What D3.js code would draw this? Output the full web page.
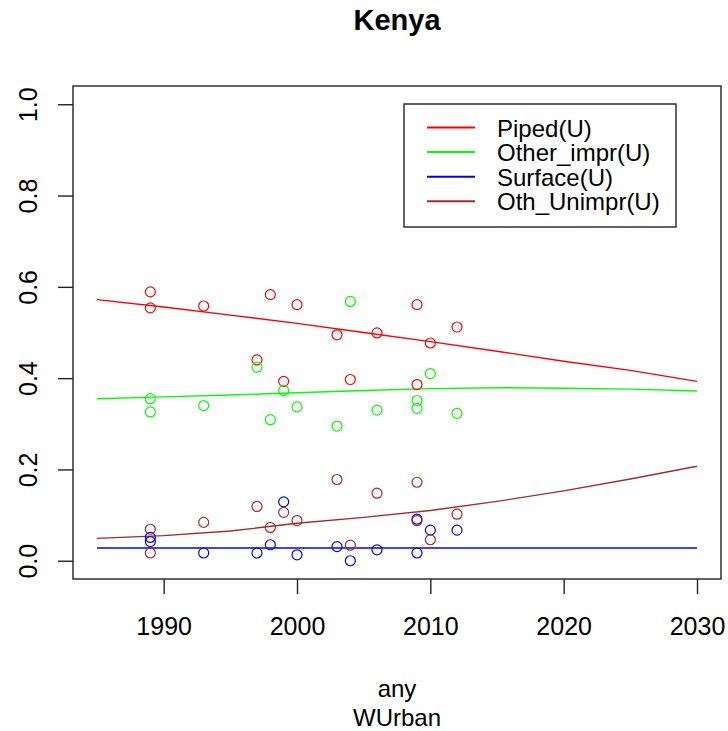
<!DOCTYPE html>
<html>
<head>
<meta charset="utf-8">
<script src="https://cdn.jsdelivr.net/npm/d3@7"></script>
<style>
    body { margin: 0; background: #ffffff; }
    text { font-family: "Liberation Sans", Arial, sans-serif; fill: #000000; }
</style>
</head>
<body>
<svg id="chart" width="728" height="731"></svg>
<script>
// Data ----------------------------------------
const seriesNames = ["Piped(U)", "Other_impr(U)", "Surface(U)", "Oth_Unimpr(U)"];
const seriesColors = ["#ff0000", "#00ff00", "#0000ff", "#a52a2a"];

// survey years (same for every series)
const surveyYears = [1989, 1989, 1993, 1997, 1998, 1999, 2000, 2003, 2004, 2006, 2009, 2009, 2010, 2012];
const pipedPts     = [0.589, 0.554, 0.558, 0.440, 0.583, 0.393, 0.561, 0.495, 0.397, 0.499, 0.561, 0.386, 0.477, 0.512];
const otherImprPts = [0.355, 0.326, 0.340, 0.424, 0.309, 0.373, 0.337, 0.295, 0.568, 0.330, 0.351, 0.334, 0.410, 0.323];
const surfacePts   = [0.051, 0.042, 0.017, 0.017, 0.035, 0.129, 0.013, 0.031, 0.000, 0.024, 0.091, 0.017, 0.067, 0.067];
const othUnimprPts = [0.069, 0.017, 0.084, 0.119, 0.073, 0.106, 0.088, 0.178, 0.034, 0.148, 0.172, 0.088, 0.046, 0.102];

// fitted trend lines
const fitYears      = [1985, 1990, 1995, 2000, 2005, 2010, 2015, 2020, 2025, 2030];
const pipedFit      = [0.572, 0.556, 0.538, 0.520, 0.500, 0.480, 0.459, 0.437, 0.417, 0.393];
const otherImprFit  = [0.355, 0.359, 0.363, 0.368, 0.373, 0.377, 0.379, 0.378, 0.376, 0.372];
const surfaceFit    = [0.028, 0.028, 0.028, 0.028, 0.028, 0.028, 0.028, 0.028, 0.028, 0.028];
const othUnimprFit  = [0.049, 0.055, 0.065, 0.082, 0.095, 0.110, 0.130, 0.153, 0.179, 0.207];

const xTicks = [1990, 2000, 2010, 2020, 2030];
const yTicks = [0, 0.2, 0.4, 0.6, 0.8, 1.0];

const allPts = [pipedPts, otherImprPts, surfacePts, othUnimprPts];
const allFits = [pipedFit, otherImprFit, surfaceFit, othUnimprFit];

// Layout ----------------------------------------
let box = { left: 73, right: 721, top: 86, bottom: 579 };

let svg = d3.select("#chart");

// R style axes: 4% padding on each side
let x = d3.scaleLinear().domain([1983.2, 2031.8]).range([box.left, box.right]);
let y = d3.scaleLinear().domain([-0.04, 1.04]).range([579, 86]);

// Plot frame
svg.append("rect")
    .attr("x", box.left)
    .attr("y", box.top)
    .attr("width", box.right - box.left)
    .attr("height", box.bottom - box.top)
    .attr("fill", "none")
    .attr("stroke", "#222")
    .attr("stroke-width", 1.4);

// X axis
let xAxis = svg.append("g")
    .attr("transform", `translate(0,${box.bottom})`)
    .call(d3.axisBottom(x).tickValues(xTicks).tickFormat(d3.format("d")).tickSize(15));
xAxis.select(".domain").remove();
xAxis.selectAll("line").attr("stroke", "#222").attr("stroke-width", 1.4);
xAxis.selectAll("text")
    .attr("y", 56)
    .attr("dy", null)
    .attr("font-size", "25px")
    .style("font-family", "Liberation Sans, Arial, sans-serif");

// Y axis (labels rotated like R)
let yAxis = svg.append("g")
    .attr("transform", `translate(${box.left},0)`)
    .call(d3.axisLeft(y).tickValues(yTicks).tickFormat(d3.format(".1f")).tickSize(15));
yAxis.select(".domain").remove();
yAxis.selectAll("line").attr("stroke", "#222").attr("stroke-width", 1.4);
yAxis.selectAll("text")
    .attr("x", null)
    .attr("dy", null)
    .attr("transform", "translate(-36,0) rotate(-90)")
    .attr("text-anchor", "middle")
    .attr("font-size", "25px")
    .style("font-family", "Liberation Sans, Arial, sans-serif");

// Trend lines
let line = d3.line()
    .x((d, i) => x(fitYears[i]))
    .y(d => y(d));

allFits.forEach((fit, k) => {
    svg.append("path")
        .datum(fit)
        .attr("d", line)
        .attr("fill", "none")
        .attr("stroke", seriesColors[k])
        .attr("stroke-width", 1.4);
});

// Survey points
allPts.forEach((pts, k) => {
    svg.append("g")
        .selectAll("circle")
        .data(pts)
        .enter().append("circle")
        .attr("cx", (d, i) => x(surveyYears[i]))
        .attr("cy", d => y(d))
        .attr("r", 5)
        .attr("fill", "none")
        .attr("stroke", seriesColors[k])
        .attr("stroke-width", 1.2);
});

// Legend
let legend = svg.append("g");
legend.append("rect")
    .attr("x", 404)
    .attr("y", 104)
    .attr("width", 272)
    .attr("height", 123)
    .attr("fill", "#fff")
    .attr("stroke", "#222")
    .attr("stroke-width", 1.4);

seriesNames.forEach((name, k) => {
    let rowY = 127.5 + k * 24.6;
    legend.append("line")
        .attr("x1", 427).attr("x2", 475)
        .attr("y1", rowY).attr("y2", rowY)
        .attr("stroke", seriesColors[k])
        .attr("stroke-width", 2);
    legend.append("text")
        .attr("x", 497)
        .attr("y", rowY + 9)
        .attr("font-size", "24px")
        .text(name);
});

// Title and axis labels
svg.append("text")
    .attr("x", (box.left + box.right) / 2)
    .attr("y", 30)
    .attr("text-anchor", "middle")
    .attr("font-size", "29px")
    .attr("font-weight", "bold")
    .text("Kenya");

svg.append("text")
    .attr("x", (box.left + box.right) / 2)
    .attr("y", 697)
    .attr("text-anchor", "middle")
    .attr("font-size", "24px")
    .text("any");

svg.append("text")
    .attr("x", (box.left + box.right) / 2)
    .attr("y", 726)
    .attr("text-anchor", "middle")
    .attr("font-size", "24px")
    .text("WUrban");
</script>
</body>
</html>
